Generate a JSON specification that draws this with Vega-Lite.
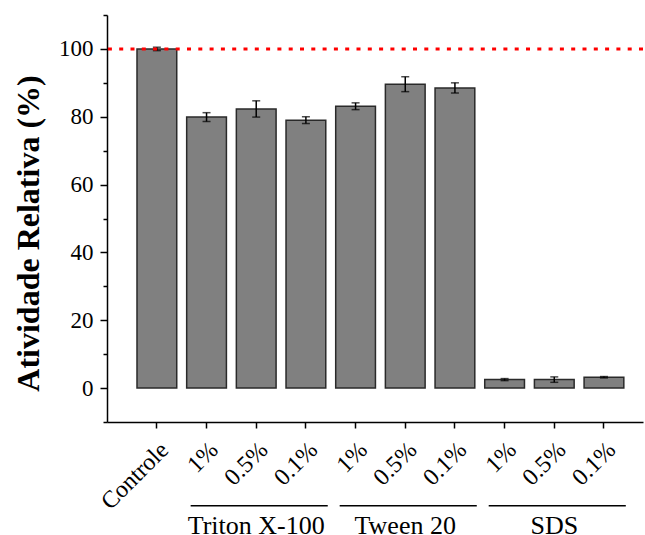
{
  "$schema": "https://vega.github.io/schema/vega-lite/v6.json",
  "width": 536,
  "height": 407,
  "autosize": {"type": "none"},
  "padding": {"left": 107, "top": 15, "right": 2, "bottom": 113},
  "background": "white",
  "config": {
    "view": {"stroke": null},
    "font": "Liberation Serif"
  },
  "datasets": {
    "bars": [
      {"id": "Controle", "v": 100.0, "e": 0.5},
      {"id": "T|1%", "v": 79.9, "e": 1.3},
      {"id": "T|0.5%", "v": 82.3, "e": 2.4},
      {"id": "T|0.1%", "v": 79.0, "e": 1.0},
      {"id": "W|1%", "v": 83.1, "e": 1.0},
      {"id": "W|0.5%", "v": 89.6, "e": 2.2},
      {"id": "W|0.1%", "v": 88.5, "e": 1.5},
      {"id": "S|1%", "v": 2.5, "e": 0.3},
      {"id": "S|0.5%", "v": 2.5, "e": 0.8},
      {"id": "S|0.1%", "v": 3.2, "e": 0.2}
    ],
    "groups": [
      {"g": "Triton X-100", "s": "T|1%", "m": "T|0.5%", "e": "T|0.1%"},
      {"g": "Tween 20", "s": "W|1%", "m": "W|0.5%", "e": "W|0.1%"},
      {"g": "SDS", "s": "S|1%", "m": "S|0.5%", "e": "S|0.1%"}
    ],
    "ref": [{"r": 100}]
  },
  "resolve": {"axis": {"y": "independent"}},
  "layer": [
    {
      "data": {"name": "bars"},
      "mark": {"type": "bar", "fill": "#808080", "stroke": "#2a2a2a", "strokeWidth": 1.5},
      "encoding": {
        "x": {
          "field": "id", "type": "nominal", "sort": null,
          "scale": {
            "domain": ["Controle", "T|1%", "T|0.5%", "T|0.1%", "W|1%", "W|0.5%", "W|0.1%", "S|1%", "S|0.5%", "S|0.1%"],
            "paddingInner": 0.2, "paddingOuter": 0.495, "align": 0.61
          },
          "axis": {
            "title": null,
            "labelExpr": "indexof(datum.value,'|')>=0 ? split(datum.value,'|')[1] : datum.value",
            "labelAngle": -45,
            "labelAlign": "right",
            "labelBaseline": "middle",
            "labelFont": "Liberation Serif",
            "labelFontSize": 24,
            "labelColor": "black",
            "labelPadding": 18,
            "labelOffset": 8,
            "labelOverlap": false,
            "domainColor": "black",
            "domainWidth": 1.5,
            "tickColor": "black",
            "tickWidth": 1.5,
            "tickSize": 6
          }
        },
        "y": {
          "field": "v", "type": "quantitative",
          "title": "Atividade Relativa (%)",
          "scale": {"domain": [-10, 110], "nice": false, "zero": false},
          "axis": {
            "orient": "left",
            "titleFont": "Liberation Serif",
            "titleFontSize": 32,
            "titleFontWeight": "bold",
            "titleColor": "black",
            "titlePadding": 13,
            "titleY": 218,
            "values": [0, 20, 40, 60, 80, 100],
            "labelFont": "Liberation Serif",
            "labelFontSize": 23,
            "labelColor": "black",
            "labelPadding": 7,
            "grid": false,
            "domainColor": "black",
            "domainWidth": 1.5,
            "tickColor": "black",
            "tickWidth": 1.5,
            "tickSize": 7
          }
        }
      }
    },
    {
      "data": {"name": "bars"},
      "mark": {"type": "errorbar", "ticks": {"size": 8, "thickness": 1.5, "color": "black"}, "rule": {"strokeWidth": 1.5, "color": "black"}},
      "encoding": {
        "x": {"field": "id", "type": "nominal", "sort": null},
        "y": {"field": "v", "type": "quantitative", "axis": null},
        "yError": {"field": "e"}
      }
    },
    {
      "data": {"name": "ref"},
      "mark": {"type": "rule", "color": "#ff0000", "strokeWidth": 3, "strokeDash": [4, 7.3]},
      "encoding": {
        "y": {
          "field": "r", "type": "quantitative",
          "axis": {
            "orient": "left",
            "title": null,
            "values": [-10, 10, 30, 50, 70, 90, 110],
            "labels": false,
            "domain": false,
            "grid": false,
            "tickColor": "black",
            "tickWidth": 1.5,
            "tickSize": 4
          }
        }
      }
    },
    {
      "data": {"name": "groups"},
      "mark": {"type": "rule", "color": "black", "strokeWidth": 1.5},
      "encoding": {
        "x": {"field": "s", "type": "nominal", "bandPosition": 0.1},
        "x2": {"field": "e", "bandPosition": 1.05},
        "y": {"datum": -34.7, "axis": null}
      }
    },
    {
      "data": {"name": "groups"},
      "mark": {"type": "text", "fontSize": 26, "font": "Liberation Serif", "color": "black", "baseline": "middle", "align": "center"},
      "encoding": {
        "x": {"field": "m", "type": "nominal"},
        "y": {"datum": -40.8, "axis": null},
        "text": {"field": "g"}
      }
    }
  ]
}
